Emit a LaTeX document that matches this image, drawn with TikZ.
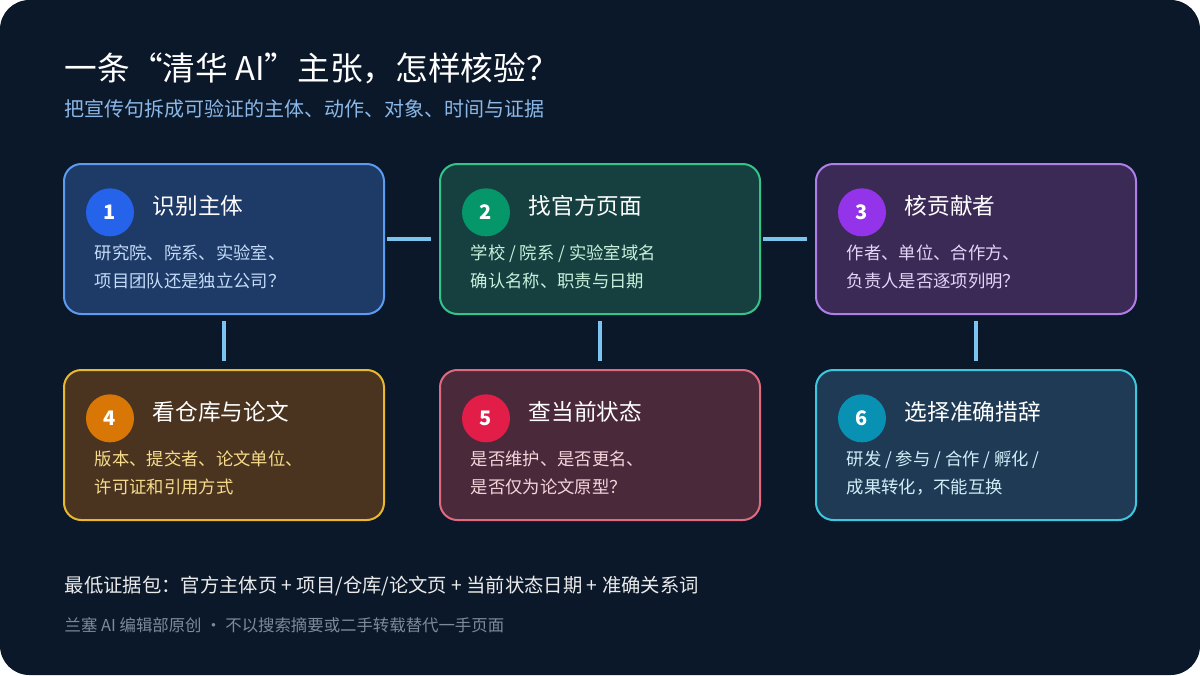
\documentclass[tikz,border=0pt]{standalone}
\usepackage{fontspec}
\setmainfont{Noto Sans CJK SC}
\usetikzlibrary{positioning}
\definecolor{bgnavy}{HTML}{0B1829}
\definecolor{linkblue}{HTML}{7CC4F0}
\definecolor{subblue}{HTML}{8AB8E8}
\definecolor{footgray}{HTML}{7D8A9C}
\definecolor{edgeA}{HTML}{5B9CF0}\definecolor{fillA}{HTML}{1E3A66}
\definecolor{edgeB}{HTML}{34C48A}\definecolor{fillB}{HTML}{16403F}
\definecolor{edgeC}{HTML}{B07EE8}\definecolor{fillC}{HTML}{3B2A55}
\definecolor{edgeD}{HTML}{E8B830}\definecolor{fillD}{HTML}{4A3420}
\definecolor{edgeE}{HTML}{E06A80}\definecolor{fillE}{HTML}{4A2A3A}
\definecolor{edgeF}{HTML}{3EC8E0}\definecolor{fillF}{HTML}{1F3A55}

\begin{document}
\begin{tikzpicture}[x=0.75pt, y=-0.75pt,
  stepbox/.style={rectangle, rounded corners=13pt, line width=1.5pt, minimum width=240pt, minimum height=112.5pt},
  num/.style={circle, minimum size=36pt, inner sep=0pt, text=white, font=\bfseries\fontsize{15}{15}\selectfont},
  head/.style={anchor=west, text=white, font=\fontsize{17}{20}\selectfont},
  body/.style={anchor=north west, align=left, font=\fontsize{13}{21}\selectfont},
  link/.style={draw=linkblue, line width=2.4pt}
]
  \fill[white] (0,0) rectangle (1200,675);
  \fill[bgnavy, rounded corners=22pt] (0,0) rectangle (1200,675);

  \node[anchor=west, text=white, font=\fontsize{24.5}{28}\selectfont] (title) at (60,68) {一条“清华 AI”主张，怎样核验？};
  \node[anchor=west, text=subblue, font=\fontsize{15}{18}\selectfont] (sub) at (60,109) {把宣传句拆成可验证的主体、动作、对象、时间与证据};

  % boxes
  \node[stepbox, draw=edgeA, fill=fillA] (b1) at (224,239) {};
  \node[stepbox, draw=edgeB, fill=fillB] (b2) at (600,239) {};
  \node[stepbox, draw=edgeC, fill=fillC] (b3) at (976,239) {};
  \node[stepbox, draw=edgeD, fill=fillD] (b4) at (224,445) {};
  \node[stepbox, draw=edgeE, fill=fillE] (b5) at (600,445) {};
  \node[stepbox, draw=edgeF, fill=fillF] (b6) at (976,445) {};

  \foreach \b/\n/\c/\t/\tc/\l in {
    b1/1/2563EB/识别主体/C4DCFA/{研究院、院系、实验室、\\项目团队还是独立公司？},
    b2/2/059669/找官方页面/C8F0DC/{学校 / 院系 / 实验室域名\\确认名称、职责与日期},
    b3/3/9333EA/核贡献者/E6D4FA/{作者、单位、合作方、\\负责人是否逐项列明？},
    b4/4/D97706/看仓库与论文/F6DC8C/{版本、提交者、论文单位、\\许可证和引用方式},
    b5/5/E11D48/查当前状态/F6D4DC/{是否维护、是否更名、\\是否仅为论文原型？},
    b6/6/0891B2/选择准确措辞/CFEFF8/{研发 / 参与 / 合作 / 孵化 /\\成果转化，不能互换}} {
    \definecolor{cc}{HTML}{\c}
    \definecolor{tc}{HTML}{\tc}
    \node[num, fill=cc] (\b n) at ([xshift=-85.5pt, yshift=20pt]\b.center) {\n};
    \node[head] (\b h) at ([xshift=-57pt, yshift=25pt]\b.center) {\t};
    \node[body, text=tc] (\b t) at ([xshift=-100.5pt, yshift=-1pt]\b.center) {\l};
  }

  % connectors
  \draw[link] ([xshift=1.5pt]b1.east) -- ([xshift=-6pt]b2.west);
  \draw[link] ([xshift=1.5pt]b2.east) -- ([xshift=-6pt]b3.west);
  \draw[link] ([yshift=-4.5pt]b1.south) -- ([yshift=6pt]b4.north);
  \draw[link] ([yshift=-4.5pt]b2.south) -- ([yshift=6pt]b5.north);
  \draw[link] ([yshift=-4.5pt]b3.south) -- ([yshift=6pt]b6.north);

  \node[anchor=west, text=white!92!black, font=\fontsize{14.5}{17}\selectfont] (pack) at (60,586) {最低证据包：官方主体页 + 项目/仓库/论文页 + 当前状态日期 + 准确关系词};
  \node[anchor=west, text=footgray, font=\fontsize{12.3}{14}\selectfont] (note) at (60,625) {兰塞 AI 编辑部原创 · 不以搜索摘要或二手转载替代一手页面};
\end{tikzpicture}
\end{document}
